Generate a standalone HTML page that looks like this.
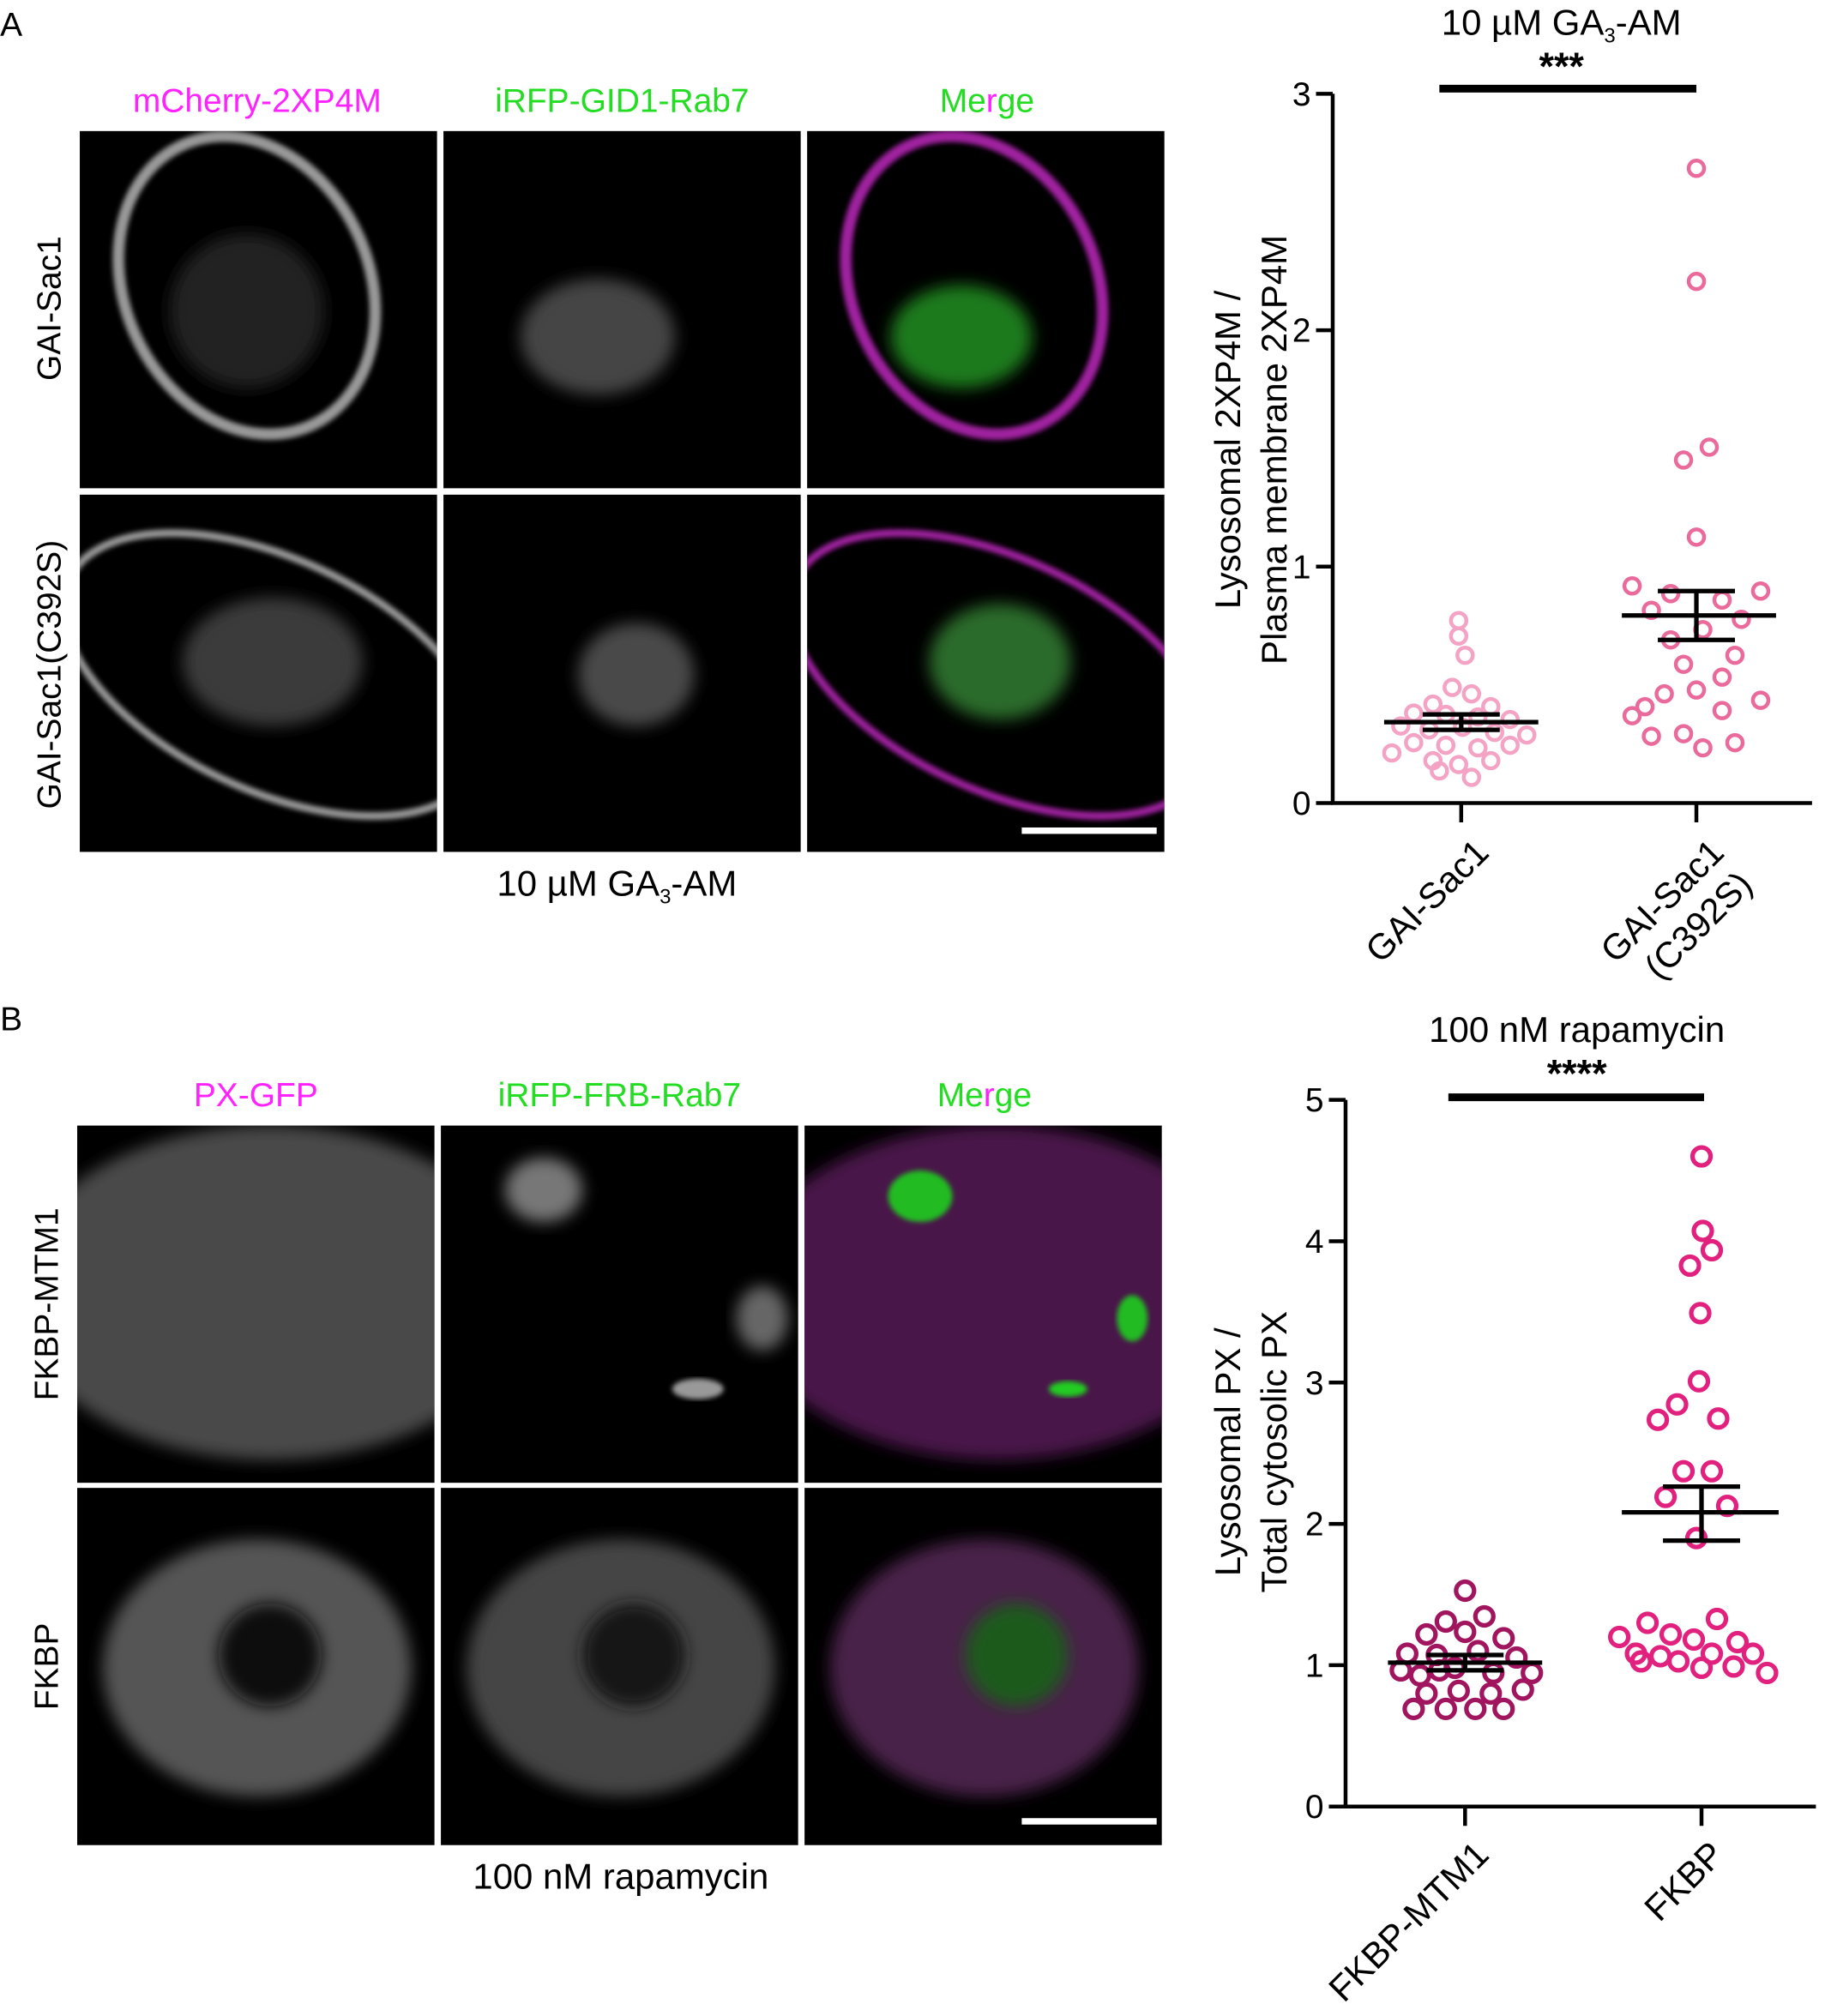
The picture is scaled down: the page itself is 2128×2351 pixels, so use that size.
<!DOCTYPE html>
<html><head><meta charset="utf-8"><style>
html,body{margin:0;padding:0;background:#fff;}
svg{display:block;}
text{font-family:"Liberation Sans",sans-serif;}
</style></head><body>
<svg width="2128" height="2351" viewBox="0 0 1420 1569" xmlns="http://www.w3.org/2000/svg">
<defs>
<filter id="b" x="-20%" y="-20%" width="140%" height="140%"><feGaussianBlur stdDeviation="6"/></filter>
<filter id="b2"><feGaussianBlur stdDeviation="2"/></filter>
<clipPath id="c"><rect x="0" y="0" width="278" height="278"/></clipPath>
</defs>
<rect width="1420" height="1569" fill="#fff"/>
<text x="0" y="28" font-size="26">A</text>
<text x="0" y="802" font-size="26">B</text>

<text x="200" y="87" font-size="26" fill="#ff22ff" text-anchor="middle">mCherry-2XP4M</text>
<text x="484" y="87" font-size="26" fill="#22dd22" text-anchor="middle">iRFP-GID1-Rab7</text>
<text x="768" y="87" font-size="26" text-anchor="middle"><tspan fill="#22dd22">Me</tspan><tspan fill="#ff22ff">r</tspan><tspan fill="#22dd22">ge</tspan></text>
<text transform="translate(47,240) rotate(-90)" font-size="26" text-anchor="middle">GAI-Sac1</text>
<text transform="translate(47,525) rotate(-90)" font-size="26" text-anchor="middle">GAI-Sac1(C392S)</text>

<g transform="translate(62,102)"><rect width="278" height="278" fill="#000"/><g clip-path="url(#c)"><ellipse cx="130" cy="120" rx="95" ry="120" transform="rotate(-25 130 120)" fill="none" stroke="#999" stroke-width="9" filter="url(#b2)"/><ellipse cx="130" cy="140" rx="60" ry="60" fill="#222" filter="url(#b)"/></g></g>
<g transform="translate(345,102)"><rect width="278" height="278" fill="#000"/><ellipse cx="120" cy="160" rx="60" ry="45" fill="#444" filter="url(#b)"/></g>
<g transform="translate(628,102)"><rect width="278" height="278" fill="#000"/><g clip-path="url(#c)"><ellipse cx="130" cy="120" rx="95" ry="120" transform="rotate(-25 130 120)" fill="none" stroke="#a020a0" stroke-width="9" filter="url(#b2)"/><ellipse cx="120" cy="160" rx="55" ry="40" fill="#1a7a1a" filter="url(#b)"/></g></g>
<g transform="translate(62,385)"><rect width="278" height="278" fill="#000"/><g clip-path="url(#c)"><ellipse cx="150" cy="140" rx="175" ry="90" transform="rotate(25 150 140)" fill="none" stroke="#999" stroke-width="6" filter="url(#b2)"/><ellipse cx="150" cy="130" rx="70" ry="50" fill="#3a3a3a" filter="url(#b)"/></g></g>
<g transform="translate(345,385)"><rect width="278" height="278" fill="#000"/><ellipse cx="150" cy="140" rx="45" ry="40" fill="#4a4a4a" filter="url(#b)"/></g>
<g transform="translate(628,385)"><rect width="278" height="278" fill="#000"/><g clip-path="url(#c)"><ellipse cx="150" cy="140" rx="175" ry="90" transform="rotate(25 150 140)" fill="none" stroke="#a020a0" stroke-width="6" filter="url(#b2)"/><ellipse cx="150" cy="130" rx="55" ry="45" fill="#2a6a2a" filter="url(#b)"/></g></g>
<rect x="795" y="644" width="105" height="5" fill="#fff"/>
<text x="480" y="697" font-size="28" text-anchor="middle">10 µM GA<tspan font-size="16" dy="6">3</tspan><tspan dy="-6">-AM</tspan></text>

<text x="199" y="861" font-size="26" fill="#ff22ff" text-anchor="middle">PX-GFP</text>
<text x="482" y="861" font-size="26" fill="#22dd22" text-anchor="middle">iRFP-FRB-Rab7</text>
<text x="766" y="861" font-size="26" text-anchor="middle"><tspan fill="#22dd22">Me</tspan><tspan fill="#ff22ff">r</tspan><tspan fill="#22dd22">ge</tspan></text>
<text transform="translate(45,1015) rotate(-90)" font-size="26" text-anchor="middle">FKBP-MTM1</text>
<text transform="translate(45,1297) rotate(-90)" font-size="26" text-anchor="middle">FKBP</text>

<g transform="translate(60,876)"><rect width="278" height="278" fill="#000"/><g clip-path="url(#c)"><ellipse cx="150" cy="130" rx="200" ry="130" fill="#4a4a4a" filter="url(#b)"/></g></g>
<g transform="translate(343,876)"><rect width="278" height="278" fill="#000"/><ellipse cx="80" cy="50" rx="30" ry="25" fill="#777" filter="url(#b)"/><ellipse cx="250" cy="150" rx="20" ry="25" fill="#666" filter="url(#b)"/><ellipse cx="200" cy="205" rx="20" ry="8" fill="#999" filter="url(#b2)"/></g>
<g transform="translate(626,876)"><rect width="278" height="278" fill="#000"/><g clip-path="url(#c)"><ellipse cx="150" cy="130" rx="200" ry="130" fill="#4a154a" filter="url(#b)"/><ellipse cx="90" cy="55" rx="25" ry="20" fill="#22bb22" filter="url(#b2)"/><ellipse cx="255" cy="150" rx="12" ry="18" fill="#22bb22" filter="url(#b2)"/><ellipse cx="205" cy="205" rx="15" ry="6" fill="#22cc22" filter="url(#b2)"/></g></g>
<g transform="translate(60,1158)"><rect width="278" height="278" fill="#000"/><g clip-path="url(#c)"><ellipse cx="140" cy="140" rx="120" ry="100" fill="#555" filter="url(#b)"/><ellipse cx="150" cy="130" rx="40" ry="40" fill="#111" filter="url(#b)"/></g></g>
<g transform="translate(343,1158)"><rect width="278" height="278" fill="#000"/><g clip-path="url(#c)"><ellipse cx="140" cy="140" rx="120" ry="100" fill="#444" filter="url(#b)"/><ellipse cx="150" cy="130" rx="40" ry="40" fill="#151515" filter="url(#b)"/></g></g>
<g transform="translate(626,1158)"><rect width="278" height="278" fill="#000"/><g clip-path="url(#c)"><ellipse cx="140" cy="140" rx="120" ry="100" fill="#4a204a" filter="url(#b)"/><ellipse cx="165" cy="130" rx="40" ry="40" fill="#1e5a1e" filter="url(#b)"/></g></g>
<rect x="795" y="1415" width="105" height="5" fill="#fff"/>
<text x="483" y="1470" font-size="28" text-anchor="middle">100 nM rapamycin</text>

<text x="1215" y="27" font-size="28" text-anchor="middle">10 µM GA<tspan font-size="16" dy="6">3</tspan><tspan dy="-6">-AM</tspan></text>
<text x="1215" y="62" font-size="30" font-weight="bold" text-anchor="middle">***</text>
<rect x="1120" y="66" width="200" height="6" fill="#000"/>
<g stroke="#000" stroke-width="3" fill="none">
<path d="M1037 73 V625 H1410"/>
<path d="M1024 73 H1037 M1024 257 H1037 M1024 441 H1037 M1024 625 H1037"/>
<path d="M1137 625 V640 M1320 625 V640"/>
</g>
<g font-size="26" text-anchor="end"><text x="1020" y="82">3</text><text x="1020" y="266">2</text><text x="1020" y="450">1</text><text x="1020" y="634">0</text></g>
<text transform="translate(975,350) rotate(-90)" font-size="28" text-anchor="middle"><tspan x="0" dy="-10">Lysosomal 2XP4M /</tspan><tspan x="0" dy="36">Plasma membrane 2XP4M</tspan></text>
<text transform="translate(1160,665) rotate(-45)" font-size="28" text-anchor="end">GAI-Sac1</text>
<text transform="translate(1343,665) rotate(-45)" font-size="28" text-anchor="end">GAI-Sac1</text>
<text transform="translate(1365,690) rotate(-45)" font-size="28" text-anchor="end">(C392S)</text>
<g fill="none" stroke="#f4a3c5" stroke-width="3">
<circle cx="1135" cy="483" r="6"/><circle cx="1135" cy="495" r="6"/><circle cx="1140" cy="510" r="6"/><circle cx="1130" cy="535" r="6"/><circle cx="1145" cy="540" r="6"/><circle cx="1115" cy="548" r="6"/><circle cx="1160" cy="550" r="6"/><circle cx="1100" cy="555" r="6"/><circle cx="1125" cy="556" r="6"/><circle cx="1150" cy="558" r="6"/><circle cx="1175" cy="560" r="6"/><circle cx="1090" cy="565" r="6"/><circle cx="1112" cy="568" r="6"/><circle cx="1138" cy="566" r="6"/><circle cx="1163" cy="570" r="6"/><circle cx="1188" cy="572" r="6"/><circle cx="1100" cy="578" r="6"/><circle cx="1125" cy="580" r="6"/><circle cx="1150" cy="582" r="6"/><circle cx="1175" cy="580" r="6"/><circle cx="1083" cy="586" r="6"/><circle cx="1115" cy="592" r="6"/><circle cx="1135" cy="595" r="6"/><circle cx="1160" cy="592" r="6"/><circle cx="1145" cy="605" r="6"/><circle cx="1120" cy="600" r="6"/>
</g>
<g fill="none" stroke="#ea6a9b" stroke-width="3">
<circle cx="1320" cy="131" r="6"/><circle cx="1320" cy="219" r="6"/><circle cx="1330" cy="348" r="6"/><circle cx="1310" cy="358" r="6"/><circle cx="1320" cy="418" r="6"/><circle cx="1270" cy="456" r="6"/><circle cx="1300" cy="462" r="6"/><circle cx="1370" cy="460" r="6"/><circle cx="1340" cy="467" r="6"/><circle cx="1285" cy="475" r="6"/><circle cx="1355" cy="482" r="6"/><circle cx="1325" cy="490" r="6"/><circle cx="1300" cy="498" r="6"/><circle cx="1350" cy="510" r="6"/><circle cx="1310" cy="517" r="6"/><circle cx="1340" cy="527" r="6"/><circle cx="1320" cy="537" r="6"/><circle cx="1295" cy="540" r="6"/><circle cx="1370" cy="545" r="6"/><circle cx="1280" cy="550" r="6"/><circle cx="1340" cy="553" r="6"/><circle cx="1270" cy="557" r="6"/><circle cx="1310" cy="571" r="6"/><circle cx="1285" cy="573" r="6"/><circle cx="1350" cy="578" r="6"/><circle cx="1325" cy="582" r="6"/>
</g>
<g stroke="#000" stroke-width="3.5" fill="none">
<path d="M1077 562 H1197 M1107 556 H1167 M1107 568 H1167 M1137 556 V568"/>
<path d="M1262 479 H1382 M1290 460 H1350 M1290 498 H1350 M1320 460 V498"/>
</g>

<text x="1227" y="811" font-size="28" text-anchor="middle">100 nM rapamycin</text>
<text x="1227" y="846" font-size="30" font-weight="bold" text-anchor="middle">****</text>
<rect x="1127" y="851" width="199" height="6" fill="#000"/>
<g stroke="#000" stroke-width="3" fill="none">
<path d="M1047 856 V1406 H1413"/>
<path d="M1034 856 H1047 M1034 966 H1047 M1034 1076 H1047 M1034 1186 H1047 M1034 1296 H1047 M1034 1406 H1047"/>
<path d="M1140 1406 V1421 M1324 1406 V1421"/>
</g>
<g font-size="26" text-anchor="end"><text x="1030" y="865">5</text><text x="1030" y="975">4</text><text x="1030" y="1085">3</text><text x="1030" y="1195">2</text><text x="1030" y="1305">1</text><text x="1030" y="1415">0</text></g>
<text transform="translate(975,1130) rotate(-90)" font-size="28" text-anchor="middle"><tspan x="0" dy="-10">Lysosomal PX /</tspan><tspan x="0" dy="36">Total cytosolic PX</tspan></text>
<text transform="translate(1160,1445) rotate(-45)" font-size="28" text-anchor="end">FKBP-MTM1</text>
<text transform="translate(1343,1445) rotate(-45)" font-size="28" text-anchor="end">FKBP</text>
<g fill="none" stroke="#a0155e" stroke-width="3.5">
<circle cx="1140" cy="1238" r="7"/><circle cx="1155" cy="1258" r="7"/><circle cx="1125" cy="1262" r="7"/><circle cx="1110" cy="1272" r="7"/><circle cx="1140" cy="1270" r="7"/><circle cx="1170" cy="1275" r="7"/><circle cx="1095" cy="1287" r="7"/><circle cx="1118" cy="1288" r="7"/><circle cx="1150" cy="1285" r="7"/><circle cx="1180" cy="1290" r="7"/><circle cx="1090" cy="1300" r="7"/><circle cx="1105" cy="1304" r="7"/><circle cx="1132" cy="1298" r="7"/><circle cx="1162" cy="1302" r="7"/><circle cx="1192" cy="1302" r="7"/><circle cx="1110" cy="1318" r="7"/><circle cx="1135" cy="1316" r="7"/><circle cx="1160" cy="1318" r="7"/><circle cx="1185" cy="1315" r="7"/><circle cx="1125" cy="1330" r="7"/><circle cx="1148" cy="1330" r="7"/><circle cx="1170" cy="1330" r="7"/><circle cx="1120" cy="1300" r="7"/><circle cx="1100" cy="1330" r="7"/>
</g>
<g fill="none" stroke="#e2207e" stroke-width="3.5">
<circle cx="1324" cy="900" r="7"/><circle cx="1325" cy="958" r="7"/><circle cx="1332" cy="973" r="7"/><circle cx="1315" cy="985" r="7"/><circle cx="1323" cy="1022" r="7"/><circle cx="1322" cy="1075" r="7"/><circle cx="1305" cy="1093" r="7"/><circle cx="1337" cy="1104" r="7"/><circle cx="1290" cy="1105" r="7"/><circle cx="1310" cy="1145" r="7"/><circle cx="1332" cy="1145" r="7"/><circle cx="1296" cy="1165" r="7"/><circle cx="1344" cy="1172" r="7"/><circle cx="1320" cy="1197" r="7"/><circle cx="1282" cy="1263" r="7"/><circle cx="1336" cy="1260" r="7"/><circle cx="1300" cy="1272" r="7"/><circle cx="1260" cy="1274" r="7"/><circle cx="1318" cy="1276" r="7"/><circle cx="1352" cy="1278" r="7"/><circle cx="1273" cy="1287" r="7"/><circle cx="1292" cy="1289" r="7"/><circle cx="1332" cy="1287" r="7"/><circle cx="1364" cy="1287" r="7"/><circle cx="1306" cy="1293" r="7"/><circle cx="1349" cy="1297" r="7"/><circle cx="1277" cy="1293" r="7"/><circle cx="1324" cy="1298" r="7"/><circle cx="1375" cy="1302" r="7"/>
</g>
<g stroke="#000" stroke-width="3.5" fill="none">
<path d="M1080 1294 H1200 M1110 1288 H1170 M1110 1300 H1170 M1140 1288 V1300"/>
<path d="M1262 1177 H1384 M1294 1157 H1354 M1294 1199 H1354 M1324 1157 V1199"/>
</g>
</svg>
</body></html>
